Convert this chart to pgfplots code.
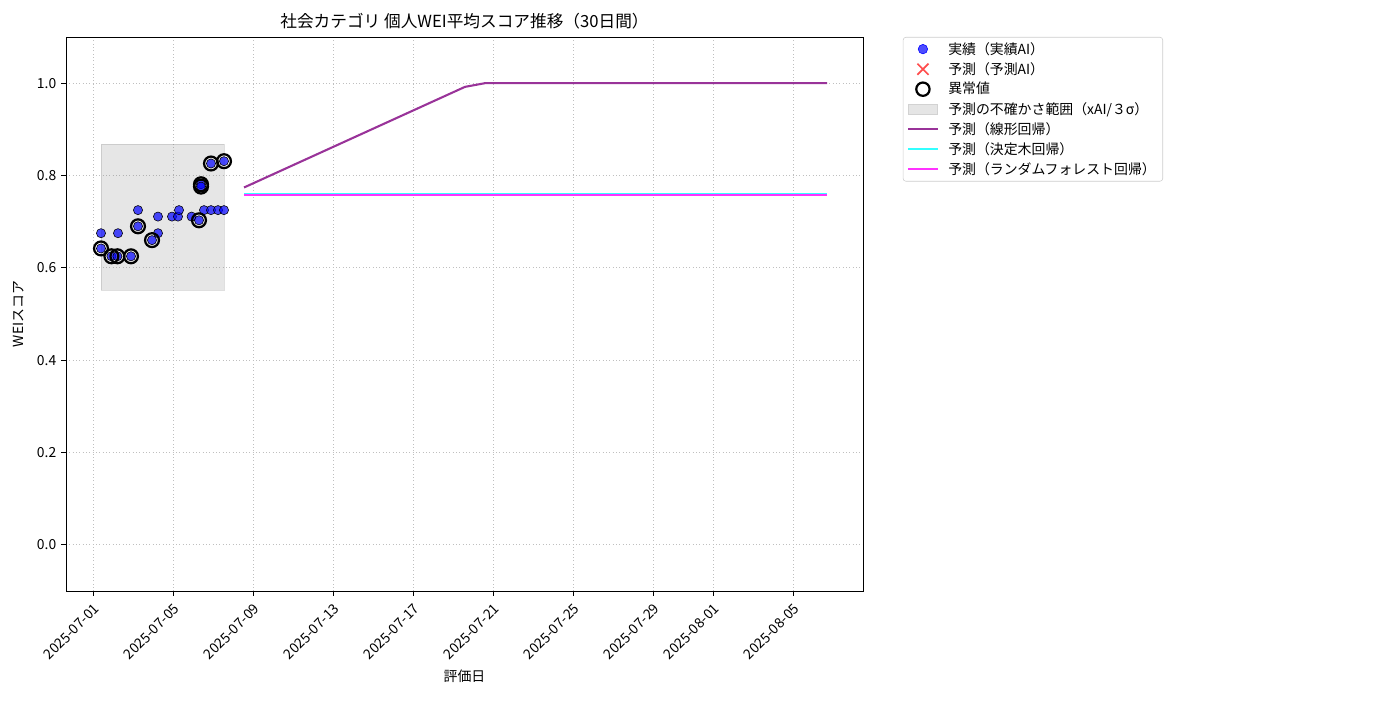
\documentclass[border=0pt]{standalone}
\usepackage{fontspec}
\setmainfont{Noto Sans CJK JP}
\usepackage{pgfplots}
\pgfplotsset{compat=1.18}

\definecolor{ptblue}{HTML}{0000FF}
\definecolor{linpurple}{HTML}{993399}
\definecolor{dtcyan}{HTML}{33FFFF}
\definecolor{rfmagenta}{HTML}{FF33FF}
\definecolor{predred}{HTML}{FF4D4D}

\begin{document}
\begin{tikzpicture}
\path[use as bounding box] (0,0) rectangle (1008pt,504pt);
\begin{axis}[
    at={(47.52pt,78.48pt)}, anchor=south west,
    scale only axis,
    width=573.84pt, height=398.88pt,
    xmin=-1.35, xmax=38.5,
    ymin=-0.1, ymax=1.1,
    xtick={0,4,8,12,16,20,24,28,31,35},
    xticklabels={2025-07-01,2025-07-05,2025-07-09,2025-07-13,2025-07-17,2025-07-21,2025-07-25,2025-07-29,2025-08-01,2025-08-05},
    xticklabel style={rotate=45, anchor=north east, font=\fontsize{10}{12}\selectfont},
    ytick={0,0.2,0.4,0.6,0.8,1.0},
    yticklabel style={/pgf/number format/fixed, /pgf/number format/fixed zerofill, /pgf/number format/precision=1, font=\fontsize{10}{12}\selectfont},
    /pgf/number format/assume math mode=true,
    tick align=outside, tick pos=left,
    major tick length=3.5pt,
    tick style={line width=0.7pt, black},
    grid=major,
    major grid style={dotted, gray!50, line width=0.6pt},
    axis line style={line width=0.7pt},
    title={社会カテゴリ 個人WEI平均スコア推移（30日間）},
    title style={at={(axis description cs:0.5,1.029)}, anchor=center, yshift=-6pt, font=\fontsize{12}{14}\selectfont},
    xlabel={評価日},
    xlabel style={at={(axis description cs:0.5,-0.153)}, anchor=center, font=\fontsize{10}{12}\selectfont},
    ylabel={WEIスコア},
    ylabel style={at={(axis description cs:-0.060,0.5)}, anchor=center, font=\fontsize{10}{12}\selectfont},
    legend style={at={(axis description cs:1.050,1.0)}, anchor=north west,
        draw=gray!40, rounded corners=2pt, font=\fontsize{10}{12}\selectfont,
        row sep=0.4pt, inner xsep=3pt, inner ysep=1.5pt,
        /tikz/every odd column/.append style={column sep=5pt}},
    legend cell align=left,
]
% legend entries
\addlegendimage{legend image code/.code={\fill[ptblue, fill opacity=0.7, sharp corners] (10.5pt,0pt) circle (3.4pt);}}
\addlegendentry{実績（実績AI）}
\addlegendimage{legend image code/.code={\draw[predred, line width=1.2pt, sharp corners] (6.5pt,-4pt) -- (14.5pt,4pt) (6.5pt,4pt) -- (14.5pt,-4pt);}}
\addlegendentry{予測（予測AI）}
\addlegendimage{legend image code/.code={\draw[black, line width=1.6pt, sharp corners] (10.5pt,0pt) circle (4.8pt);}}
\addlegendentry{異常値}
\addlegendimage{legend image code/.code={\draw[fill=gray!20, draw=gray!35, sharp corners] (0pt,-3.5pt) rectangle (21pt,3.5pt);}}
\addlegendentry{予測の不確かさ範囲（xAI/３σ）}
\addlegendimage{legend image code/.code={\draw[linpurple, line width=1.5pt, sharp corners] (0pt,0pt) -- (21pt,0pt);}}
\addlegendentry{予測（線形回帰）}
\addlegendimage{legend image code/.code={\draw[dtcyan, line width=1.5pt, sharp corners] (0pt,0pt) -- (21pt,0pt);}}
\addlegendentry{予測（決定木回帰）}
\addlegendimage{legend image code/.code={\draw[rfmagenta, line width=1.5pt, sharp corners] (0pt,0pt) -- (21pt,0pt);}}
\addlegendentry{予測（ランダムフォレスト回帰）}

% uncertainty band
\addplot[forget plot, fill=gray, fill opacity=0.2, draw=gray, draw opacity=0.25] coordinates {
    (0.4,0.551) (6.55,0.551) (6.55,0.868) (0.4,0.868)
} -- cycle;

% actual values
\addplot[forget plot, only marks, mark=*, mark size=3.3pt, mark options={draw=none, fill=ptblue, fill opacity=0.7}] coordinates {
    (0.4,0.675) (0.4,0.642) (0.92,0.625) (1.25,0.675) (1.22,0.625)
    (1.9,0.625) (2.25,0.725) (2.25,0.690) (2.95,0.660) (3.25,0.711)
    (3.25,0.675) (3.95,0.711) (4.25,0.711) (4.3,0.725) (4.93,0.711)
    (5.3,0.703) (5.4,0.781) (5.4,0.776) (5.55,0.725) (5.9,0.725)
    (5.9,0.826) (6.25,0.725) (6.55,0.725) (6.55,0.831)
};

% anomalies
\addplot[forget plot, only marks, mark=o, mark size=5pt, black, line width=1.6pt] coordinates {
    (0.4,0.642) (0.92,0.625) (1.22,0.625) (1.9,0.625) (2.25,0.690)
    (2.95,0.660) (5.3,0.703) (5.4,0.781) (5.4,0.776) (5.9,0.826) (6.55,0.831)
};

% forecasts
\addplot[forget plot, linpurple, line width=1.5pt] coordinates {
    (7.55,0.774) (18.6,0.992) (19.6,1.0) (36.7,1.0)
};
\addplot[forget plot, dtcyan, line width=1.5pt] coordinates {
    (7.55,0.7605) (36.7,0.7605)
};
\addplot[forget plot, rfmagenta, line width=1.5pt] coordinates {
    (7.55,0.758) (36.7,0.758)
};
\end{axis}
\end{tikzpicture}
\end{document}
